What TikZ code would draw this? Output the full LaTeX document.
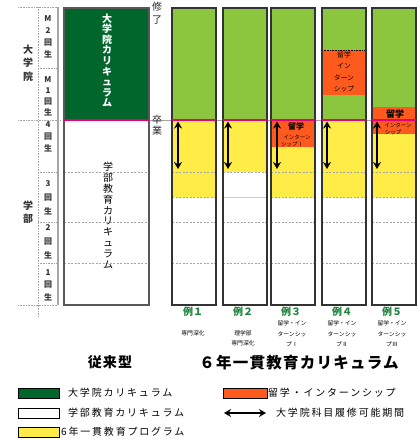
\documentclass[tikz,border=0pt]{standalone}
\usepackage{fontspec}
\setmainfont{Noto Sans CJK JP}
\usetikzlibrary{arrows.meta}
\definecolor{dkgreen}{RGB}{0,102,44}
\definecolor{ltgreen}{RGB}{140,198,63}
\definecolor{yel}{RGB}{255,236,70}
\definecolor{org}{RGB}{255,90,30}
\definecolor{mag}{RGB}{232,0,120}
\definecolor{exgreen}{RGB}{30,130,60}
\tikzset{
  colborder/.style={draw=black!80, line width=1.2pt},
  sepline/.style={draw=gray!70, line width=0.6pt, dash pattern=on 2pt off 1.5pt},
  gridline/.style={draw=gray!70, line width=0.6pt, dash pattern=on 0.8pt off 0.8pt},
  magline/.style={draw=mag, line width=1.8pt},
  dblarrow/.style={{Stealth[length=7pt,width=8pt]}-{Stealth[length=7pt,width=8pt]}, line width=2pt, black},
  vtext/.style={align=center, inner sep=0pt},
  grade/.style={vtext, font=\bfseries\fontsize{8}{12}\selectfont, text=black!80},
  exlabel/.style={inner sep=0pt, font=\bfseries\fontsize{10}{12}\selectfont, text=exgreen},
  sublabel/.style={align=center, inner sep=0pt, font=\fontsize{5.8}{10.5}\selectfont},
  legtext/.style={anchor=west, inner sep=0pt, font=\fontsize{10}{12}\selectfont\addfontfeature{LetterSpace=18}},
  swatch/.style={draw=black, line width=1pt},
  orgtext/.style={align=center, inner sep=0pt, text=black},
}
\begin{document}
\begin{tikzpicture}[x=1pt,y=-1pt]
\useasboundingbox (0,0) rectangle (417,446);

% ---------- left scale ----------
\draw[gridline] (38,7) -- (38,316);
\draw[gridline] (18,7) -- (58,7);
\draw[gridline] (38,68) -- (58,68);
\draw[gridline] (18,120) -- (60,120);
\draw[gridline] (38,172) -- (58,172);
\draw[gridline] (38,222) -- (58,222);
\draw[gridline] (38,263) -- (58,263);
\draw[gridline] (18,305) -- (58,305);
\draw[gray!70, line width=1.3pt] (58,7) -- (58,305);

\node[vtext, font=\bfseries\fontsize{10}{13.5}\selectfont, text=black!80] (daigakuin) at (28,63) {大\\学\\院};
\node[vtext, font=\bfseries\fontsize{10}{12.5}\selectfont, text=black!80] (gakubu) at (28,212) {学\\部};
\node[grade] (m2) at (48,37) {M\\2\\回\\生};
\node[grade, font=\bfseries\fontsize{8}{11}\selectfont] (m1) at (48,96) {M\\1\\回\\生};
\node[grade] (g4) at (48,137) {4\\回\\生};
\node[grade, font=\bfseries\fontsize{8}{14}\selectfont] (g3) at (48,198) {3\\回\\生};
\node[grade, font=\bfseries\fontsize{8}{14}\selectfont] (g2) at (48,242) {2\\回\\生};
\node[grade, font=\bfseries\fontsize{8}{12.5}\selectfont] (g1) at (48,285) {1\\回\\生};

% ---------- horizontal gray line at graduation ----------
\draw[gray!70, line width=0.8pt] (149,120) -- (417,120);

% ---------- conventional column ----------
\fill[dkgreen] (64,8) rectangle (149,120);
\draw[sepline] (64,172) -- (149,172);
\draw[sepline] (64,222) -- (149,222);
\draw[sepline] (64,263) -- (149,263);
\draw[colborder, draw=black!65] (64,8) rectangle (149,305);
\draw[magline] (64,120) -- (149,120);
\node[vtext, text=white, font=\bfseries\fontsize{10}{10.6}\selectfont] (gradcur) at (107,60.5) {大\\学\\院\\カ\\リ\\キ\\ュ\\ラ\\ム};
\node[vtext, text=black, font=\fontsize{10}{10.8}\selectfont] (ugcur) at (108,215.5) {学\\部\\教\\育\\カ\\リ\\キ\\ュ\\ラ\\ム};

\node[vtext, font=\fontsize{10}{12.5}\selectfont, text=black!85] (shuryo) at (157,13) {修\\了};
\node[vtext, font=\fontsize{10}{11}\selectfont, text=black!85] (sotsugyo) at (157,125) {卒\\業};

% ---------- example 1 ----------
\fill[ltgreen] (172,8) rectangle (216,120);
\fill[yel] (172,120) rectangle (216,197);
\draw[sepline] (172,172) -- (216,172);
\draw[sepline] (172,197) -- (216,197);
\draw[sepline] (172,222) -- (216,222);
\draw[sepline] (172,263) -- (216,263);
\draw[colborder] (172,8) rectangle (216,305);
\draw[magline] (172,120) -- (216,120);

% ---------- example 2 ----------
\fill[ltgreen] (223,8) rectangle (267,120);
\fill[yel] (223,120) rectangle (267,172);
\draw[sepline] (223,172) -- (267,172);
\draw[gray!40, line width=0.8pt] (223,197) -- (267,197);
\draw[sepline] (223,222) -- (267,222);
\draw[sepline] (223,263) -- (267,263);
\draw[colborder] (223,8) rectangle (267,305);
\draw[magline] (223,120) -- (267,120);

% ---------- example 3 ----------
\fill[ltgreen] (271,8) rectangle (315,120);
\fill[yel] (271,120) rectangle (315,197);
\fill[org] (271,120) rectangle (315,147);
\draw[sepline] (271,172) -- (315,172);
\draw[sepline] (271,197) -- (315,197);
\draw[sepline] (271,222) -- (315,222);
\draw[sepline] (271,263) -- (315,263);
\draw[colborder] (271,8) rectangle (315,305);
\draw[magline] (271,120) -- (315,120);
\node[orgtext, font=\bfseries\fontsize{8}{9}\selectfont] (o3a) at (296,126.5) {留学};
\node[orgtext, font=\fontsize{5.5}{6}\selectfont] (o3b) at (297,137) {インターン};
\node[orgtext, font=\fontsize{5.5}{6}\selectfont] (o3c) at (292,144) {シップⅠ};

% ---------- example 4 ----------
\fill[ltgreen] (322,8) rectangle (366,120);
\fill[org] (322,50) rectangle (366,95);
\draw[black, line width=0.6pt, dash pattern=on 0.8pt off 0.8pt] (322,50) -- (366,50);
\fill[yel] (322,120) rectangle (366,197);
\draw[sepline] (322,172) -- (366,172);
\draw[sepline] (322,197) -- (366,197);
\draw[sepline] (322,222) -- (366,222);
\draw[sepline] (322,263) -- (366,263);
\draw[colborder] (322,8) rectangle (366,305);
\draw[magline] (322,120) -- (366,120);
\node[orgtext, font=\fontsize{6.8}{11.3}\selectfont] (o4) at (344,72) {留学\\イン\\ターン\\シップ};

% ---------- example 5 ----------
\fill[ltgreen] (372,8) rectangle (416,107);
\fill[org] (372,107) rectangle (416,134);
\fill[yel] (372,134) rectangle (416,197);
\draw[sepline] (372,172) -- (416,172);
\draw[sepline] (372,197) -- (416,197);
\draw[sepline] (372,222) -- (416,222);
\draw[sepline] (372,263) -- (416,263);
\draw[colborder] (372,8) rectangle (416,305);
\draw[magline] (372,120) -- (416,120);
\node[orgtext, font=\bfseries\fontsize{9}{10}\selectfont] (o5a) at (395,114) {留学};
\node[orgtext, font=\fontsize{5.5}{6}\selectfont] (o5b) at (398,125.5) {インターン};
\node[orgtext, font=\fontsize{5.5}{6}\selectfont] (o5c) at (393,132) {シップ};

% ---------- arrows ----------
\foreach \n/\xx in {1/178,2/228,3/277,4/327,5/377}{
  \coordinate (at\n) at (\xx,121.5);
  \coordinate (ab\n) at (\xx,169);
  \draw[dblarrow] (at\n) -- (ab\n);
}

% ---------- labels under columns ----------
\node[exlabel] (ex1) at (193,312) {例１};
\node[exlabel] (ex2) at (243,312) {例２};
\node[exlabel] (ex3) at (291,312) {例３};
\node[exlabel] (ex4) at (342,312) {例４};
\node[exlabel] (ex5) at (392,312) {例５};
\node[sublabel] (s1) at (193,333) {専門深化};
\node[sublabel] (s2) at (243,338.5) {理学部\\専門深化};
\node[sublabel] (s3) at (292,334) {留学・イン\\ターンシッ\\プⅠ};
\node[sublabel] (s4) at (342,334) {留学・イン\\ターンシッ\\プⅡ};
\node[sublabel] (s5) at (392,334) {留学・イン\\ターンシッ\\プⅢ};

\node[inner sep=0pt, font=\bfseries\fontsize{14}{16}\selectfont\addfontfeature{LetterSpace=8}] (jurai) at (110,362) {従来型};
\node[inner sep=0pt, font=\bfseries\fontsize{15.5}{18}\selectfont\addfontfeature{LetterSpace=8}] (ikkan) at (299,363) {６年一貫教育カリキュラム};

% ---------- legend ----------
\draw[swatch, fill=dkgreen] (18,388) rectangle (59,398);
\draw[swatch, fill=white] (18,408) rectangle (59,418);
\draw[swatch, fill=yel] (18,427) rectangle (59,437);
\draw[swatch, fill=org] (223,388) rectangle (267,398);
\coordinate (legl) at (224,413);
\coordinate (legr) at (266,413);
\draw[dblarrow] (legl) -- (legr);
\node[legtext] (l1) at (68,393) {大学院カリキュラム};
\node[legtext] (l2) at (68,413) {学部教育カリキュラム};
\node[legtext] (l3) at (61,432) {6年一貫教育プログラム};
\node[legtext] (l4) at (268,393) {留学・インターンシップ};
\node[legtext] (l5) at (276,413) {大学院科目履修可能期間};
\end{tikzpicture}
\end{document}
